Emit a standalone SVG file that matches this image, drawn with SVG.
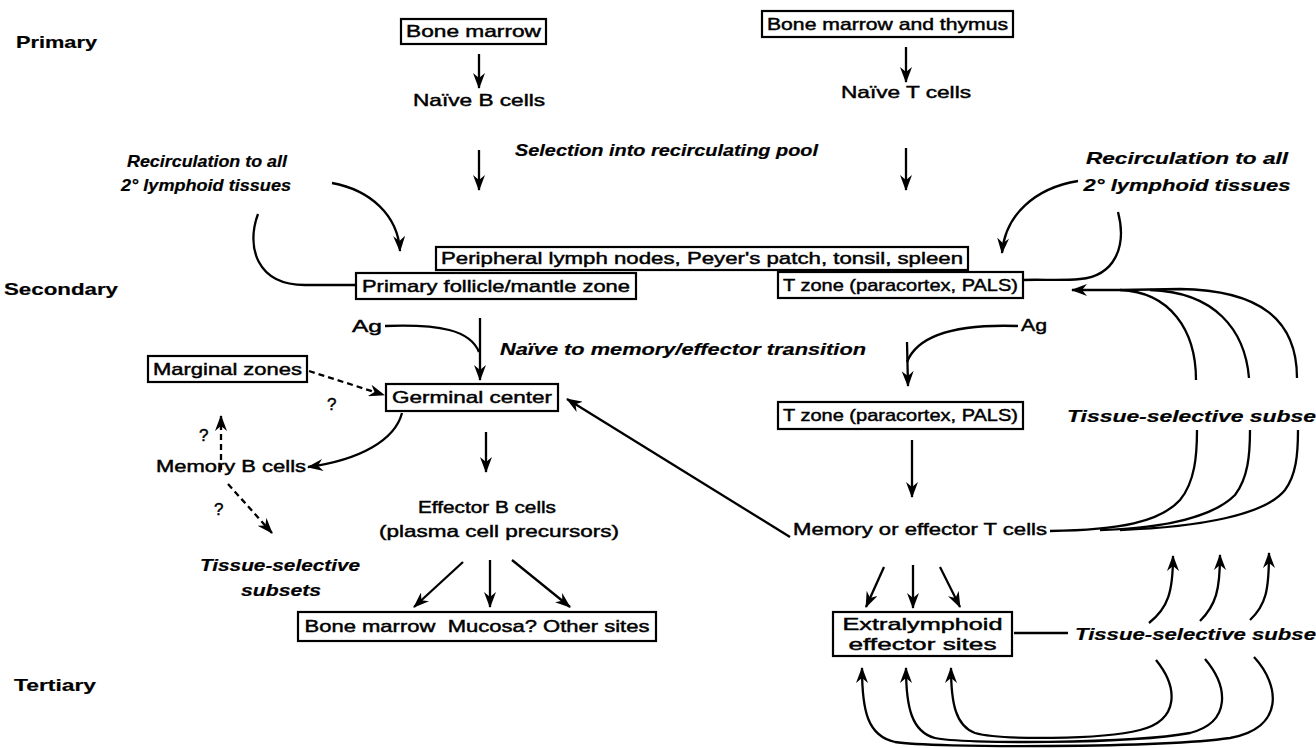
<svg xmlns="http://www.w3.org/2000/svg" width="1316" height="748" viewBox="0 0 1316 748">
<defs>
<marker id="ah" viewBox="0 0 16 12" markerWidth="16" markerHeight="12" refX="15" refY="6" orient="auto" markerUnits="userSpaceOnUse"><path d="M0,0 L16,6 L0,12 L5,6 z" fill="#000"/></marker>
<style>
.bx{fill:#fff;stroke:#000;stroke-width:2.2}
.t{font-family:"Liberation Sans",Arial,sans-serif;font-size:17px;fill:#000;stroke:#000;stroke-width:0.45}
.c{text-anchor:middle}
.b{font-weight:bold;stroke-width:0.2}
.i{font-weight:bold;font-style:italic;stroke-width:0.2}
.ln{fill:none;stroke:#000;stroke-width:2.3}
.ar{fill:none;stroke:#000;stroke-width:2.3;marker-end:url(#ah)}
.da{fill:none;stroke:#000;stroke-width:2.3;stroke-dasharray:6 4;marker-end:url(#ah)}
</style>
</defs>
<rect width="1316" height="748" fill="#fff"/>
<g id="labels">
<text class="t b" x="16" y="48" textLength="81" lengthAdjust="spacingAndGlyphs">Primary</text>
<text class="t b" x="4" y="295" textLength="114" lengthAdjust="spacingAndGlyphs">Secondary</text>
<text class="t b" x="14" y="691" textLength="82" lengthAdjust="spacingAndGlyphs">Tertiary</text>
<text class="t i" x="515" y="156" textLength="303" lengthAdjust="spacingAndGlyphs">Selection into recirculating pool</text>
<text class="t i c" x="207" y="167" textLength="160" lengthAdjust="spacingAndGlyphs">Recirculation to all</text>
<text class="t i c" x="206" y="191" textLength="170" lengthAdjust="spacingAndGlyphs">2° lymphoid tissues</text>
<text class="t i c" x="1187" y="164" textLength="202" lengthAdjust="spacingAndGlyphs">Recirculation to all</text>
<text class="t i c" x="1187" y="191" textLength="207" lengthAdjust="spacingAndGlyphs">2° lymphoid tissues</text>
<text class="t" x="352" y="332" textLength="30" lengthAdjust="spacingAndGlyphs">Ag</text>
<text class="t" x="1021" y="331" textLength="26" lengthAdjust="spacingAndGlyphs">Ag</text>
<text class="t i" x="500" y="355" textLength="366" lengthAdjust="spacingAndGlyphs">Naïve to memory/effector transition</text>
<text class="t" x="327" y="410">?</text>
<text class="t" x="199" y="441">?</text>
<text class="t" x="214" y="515">?</text>
<text class="t i c" x="280" y="571" textLength="160" lengthAdjust="spacingAndGlyphs">Tissue-selective</text>
<text class="t i c" x="281" y="596" textLength="80" lengthAdjust="spacingAndGlyphs">subsets</text>
<text class="t i" x="1067" y="422" textLength="249" lengthAdjust="spacingAndGlyphs">Tissue-selective subse</text>
<text class="t i" x="1075" y="640" textLength="241" lengthAdjust="spacingAndGlyphs">Tissue-selective subse</text>
</g>
<g id="connectors">
<path class="ar" d="M479,54 L479,88"/>
<path class="ar" d="M479,150 L479,190"/>
<path class="ar" d="M906,47 L906,82"/>
<path class="ar" d="M906,148 L906,190"/>
<path class="ar" d="M332,183 C370,190 398,215 400,251"/>
<path class="ln" d="M258,214 C246,246 256,285 305,285 L356,285"/>
<path class="ar" d="M1078,181 C1035,188 1005,215 1002,253"/>
<path class="ln" d="M1118,212 C1127,246 1115,276 1080,279 C1060,281 1040,279 1023,280"/>
<path class="ar" d="M480,318 L480,380"/>
<path class="ln" d="M385,326 C440,324 470,330 479,352"/>
<path class="ar" d="M907,342 L908,386"/>
<path class="ln" d="M1018,326 C960,324 918,334 907,362"/>
<path class="da" d="M309,371 L384,395"/>
<path class="da" d="M221,470 L221,416"/>
<path class="ar" d="M402,413 C395,440 360,460 308,467"/>
<path class="ar" d="M486,432 L486,472"/>
<path class="da" d="M228,484 L272,533"/>
<path class="ar" d="M463,562 L414,607"/>
<path class="ar" d="M490,560 L490,607"/>
<path class="ar" d="M512,560 L570,607"/>
<path class="ar" d="M912,440 L912,497"/>
<path class="ar" d="M790,537 L567,399"/>
<path class="ln" d="M1050,531 C1120,530 1160,522 1180,500 C1195,482 1197,455 1197,430"/>
<path class="ln" d="M1100,530 C1170,528 1215,515 1235,495 C1248,478 1250,455 1250,430"/>
<path class="ln" d="M1120,530 C1200,527 1265,515 1285,490 C1296,475 1298,455 1298,430"/>
<path class="ar" d="M1196,380 C1196,330 1170,292 1120,290 L1072,290"/>
<path class="ln" d="M1249,378 C1245,330 1215,292 1150,290"/>
<path class="ln" d="M1297,378 C1297,320 1260,290 1180,289 L1120,290"/>
<path class="ar" d="M884,567 L866,607"/>
<path class="ar" d="M913,565 L913,608"/>
<path class="ar" d="M940,567 L960,607"/>
<path class="ln" d="M1014,633 L1068,633"/>
<path class="ar" d="M1149,623 C1168,608 1173,592 1173,556"/>
<path class="ar" d="M1200,621 C1216,605 1220,590 1220,555"/>
<path class="ar" d="M1250,620 C1266,605 1269,590 1269,553"/>
<path class="ar" d="M1254,657 C1280,685 1285,728 1230,738 C1160,748 930,748 895,742 C868,736 862,712 862,668"/>
<path class="ar" d="M1205,659 C1228,686 1232,722 1190,733 C1130,744 960,744 935,738 C912,732 906,708 906,668"/>
<path class="ar" d="M1156,660 C1178,687 1180,720 1140,730 C1100,740 1000,740 975,733 C956,726 951,704 951,668"/>
</g>
<g id="bone-marrow-b"><rect class="bx" x="401" y="19" width="145" height="25"/><text class="t c" x="473.5" y="37" textLength="135" lengthAdjust="spacingAndGlyphs">Bone marrow</text></g>
<g id="bone-marrow-thymus"><rect class="bx" x="762" y="11" width="251" height="26"/><text class="t c" x="887.5" y="30" textLength="241" lengthAdjust="spacingAndGlyphs">Bone marrow and thymus</text></g>
<g id="naive-b"><text class="t c" x="479" y="106" textLength="132" lengthAdjust="spacingAndGlyphs">Naïve B cells</text></g>
<g id="naive-t"><text class="t c" x="906" y="98" textLength="130" lengthAdjust="spacingAndGlyphs">Naïve T cells</text></g>
<g id="peripheral"><rect class="bx" x="436" y="247" width="532" height="23"/><text class="t c" x="702" y="264" textLength="522" lengthAdjust="spacingAndGlyphs">Peripheral lymph nodes, Peyer's patch, tonsil, spleen</text></g>
<g id="primary-follicle"><rect class="bx" x="356" y="273" width="280" height="26"/><text class="t c" x="496" y="292" textLength="268" lengthAdjust="spacingAndGlyphs">Primary follicle/mantle zone</text></g>
<g id="t-zone-1"><rect class="bx" x="778" y="272" width="245" height="26"/><text class="t c" x="900.5" y="291" textLength="235" lengthAdjust="spacingAndGlyphs">T zone (paracortex, PALS)</text></g>
<g id="marginal-zones"><rect class="bx" x="148" y="356" width="159" height="26"/><text class="t c" x="227.5" y="375" textLength="149" lengthAdjust="spacingAndGlyphs">Marginal zones</text></g>
<g id="germinal-center"><rect class="bx" x="386" y="384" width="172" height="27"/><text class="t c" x="472" y="403" textLength="160" lengthAdjust="spacingAndGlyphs">Germinal center</text></g>
<g id="t-zone-2"><rect class="bx" x="778" y="402" width="245" height="27"/><text class="t c" x="900.5" y="421" textLength="235" lengthAdjust="spacingAndGlyphs">T zone (paracortex, PALS)</text></g>
<g id="memory-b"><text class="t c" x="231" y="472" textLength="150" lengthAdjust="spacingAndGlyphs">Memory B cells</text></g>
<g id="effector-b"><text class="t c" x="487" y="513" textLength="138" lengthAdjust="spacingAndGlyphs">Effector B cells</text><text class="t c" x="499" y="537" textLength="240" lengthAdjust="spacingAndGlyphs">(plasma cell precursors)</text></g>
<g id="b-sites"><rect class="bx" x="298" y="612" width="358" height="29"/><text class="t c" x="477" y="632" textLength="345" lengthAdjust="spacingAndGlyphs" xml:space="preserve">Bone marrow  Mucosa? Other sites</text></g>
<g id="memory-t"><text class="t c" x="920" y="535" textLength="254" lengthAdjust="spacingAndGlyphs">Memory or effector T cells</text></g>
<g id="extralymphoid"><rect class="bx" x="833" y="612" width="179" height="44"/><text class="t c" x="922.5" y="630" textLength="160" lengthAdjust="spacingAndGlyphs">Extralymphoid</text><text class="t c" x="922.5" y="650" textLength="148" lengthAdjust="spacingAndGlyphs">effector sites</text></g>
</svg>
